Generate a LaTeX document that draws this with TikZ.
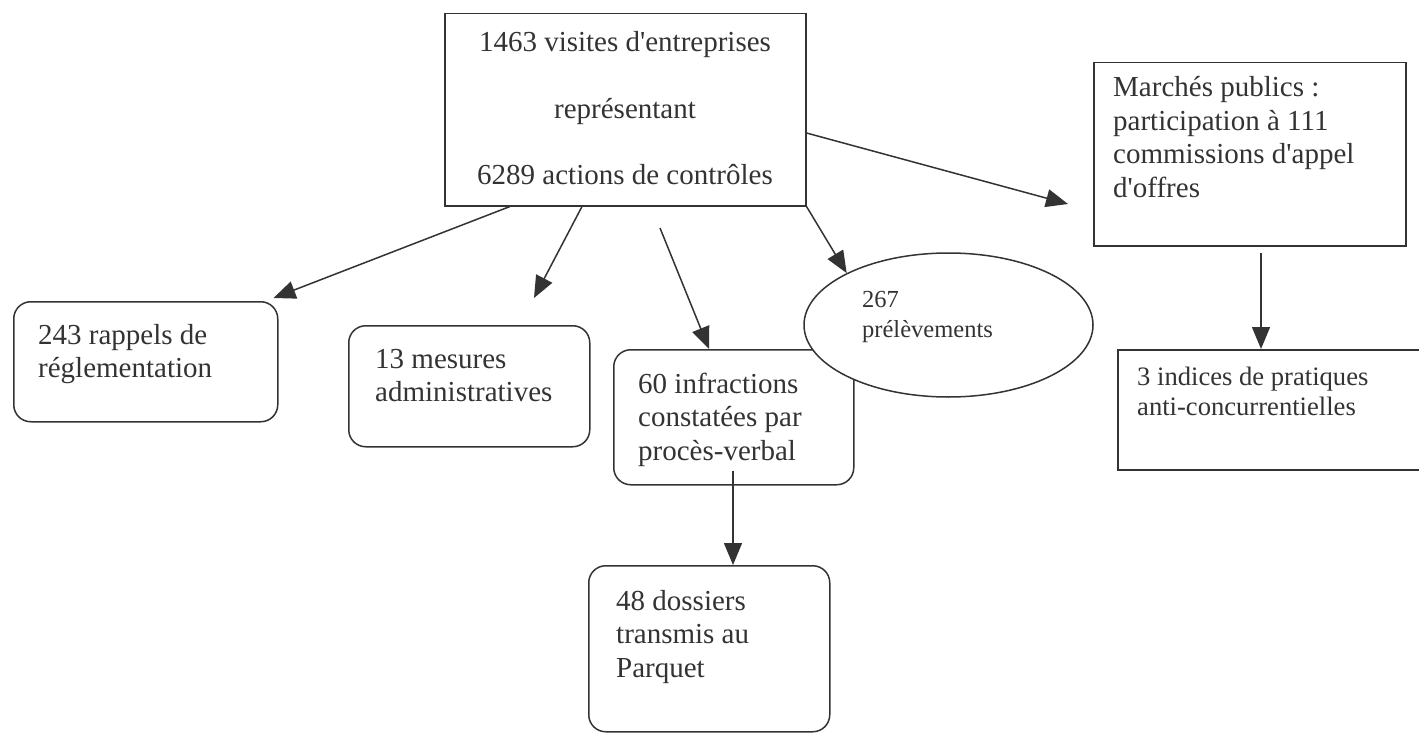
\documentclass[tikz,border=0pt]{standalone}
\usepackage{fontspec}
\setmainfont{Liberation Serif}[Ligatures=TeXOff]
\usetikzlibrary{arrows.meta,shapes.geometric}
\definecolor{ink}{HTML}{333333}
\newcommand\blk[1]{\vtop{\halign{##\hfil\cr#1\crcr}}}
\newcommand\cblk[1]{\vtop{\halign{\hfil##\hfil\cr#1\crcr}}}
\tikzset{
  box/.style={draw=ink, line width=1.5pt, rectangle, inner sep=0pt, anchor=north west},
  rbox/.style={box, rounded corners=17pt},
  txt/.style={text=ink, inner sep=0pt, anchor=base west, font=\fontsize{29}{33.5}\selectfont},
  arr/.style={draw=ink, line width=1.5pt, -{Triangle[length=22pt,width=18pt]}},
}
\begin{document}
\begin{tikzpicture}[x=1pt,y=-1pt]
\useasboundingbox[fill=white] (0,0) rectangle (1419,733);
% boxes
\node[box, minimum width=361pt, minimum height=192pt] (top) at (444,13) {};
\node[box, minimum width=312pt, minimum height=183pt] (mar) at (1093,62) {};
\node[box, minimum width=312pt, minimum height=120pt] (ind) at (1117,349) {};
\node[rbox, minimum width=264pt, minimum height=120pt] (r243) at (13,301) {};
\node[rbox, minimum width=241pt, minimum height=121pt] (r13) at (348,325) {};
\node[rbox, minimum width=240pt, minimum height=135pt] (r60) at (613,349) {};
\node[draw=ink, line width=1.5pt, fill=white, ellipse, inner sep=0pt,
      minimum width=289pt, minimum height=144pt] (ell) at (948.5,325) {};
\node[rbox, minimum width=241pt, minimum height=166pt] (r48) at (588,565) {};
% texts
\node[txt, anchor=base, font=\fontsize{29}{66.5}\selectfont] (ttop) at (625,52)
  {\cblk{1463 visites d'entreprises\cr représentant\cr 6289 actions de contrôles}};
\node[txt] (tmar) at (1113,97)
  {\blk{Marchés publics :\cr participation à 111\cr commissions d'appel\cr d'offres}};
\node[txt, font=\fontsize{26.6}{30}\selectfont] (tind) at (1137,385)
  {\blk{3 indices de pratiques\cr anti-concurrentielles}};
\node[txt] (t243) at (38,344) {\blk{243 rappels de\cr réglementation}};
\node[txt] (t13) at (375,368) {\blk{13 mesures\cr administratives}};
\node[txt] (t60) at (638,393) {\blk{60 infractions\cr constatées par\cr procès-verbal}};
\node[txt, font=\fontsize{24.5}{30}\selectfont] (tell) at (862,307) {\blk{267\cr prélèvements}};
\node[txt] (t48) at (616,610) {\blk{48 dossiers\cr transmis au\cr Parquet}};
% free ends
\coordinate (e13) at (534,298);
\coordinate (s60) at (660,228);
\coordinate (emar) at (1068,204);
\coordinate (sind) at (1261,253);
% connectors
\draw[arr] ([xshift=66pt]top.south west) -- ([shift={(-5pt,3pt)}]r243.north east);
\draw[arr] ([xshift=138pt]top.south west) -- (e13);
\draw[arr] (s60) -- ([xshift=96pt]r60.north west);
\draw[arr] (top.south east) -- (ell.153);
\draw[arr] ([yshift=-120pt]top.north east) -- (emar);
\draw[arr] (sind) -- ([xshift=144pt]ind.north west);
\draw[arr] ([shift={(120pt,15pt)}]r60.south west) -- ([xshift=145pt]r48.north west);
\end{tikzpicture}
\end{document}
